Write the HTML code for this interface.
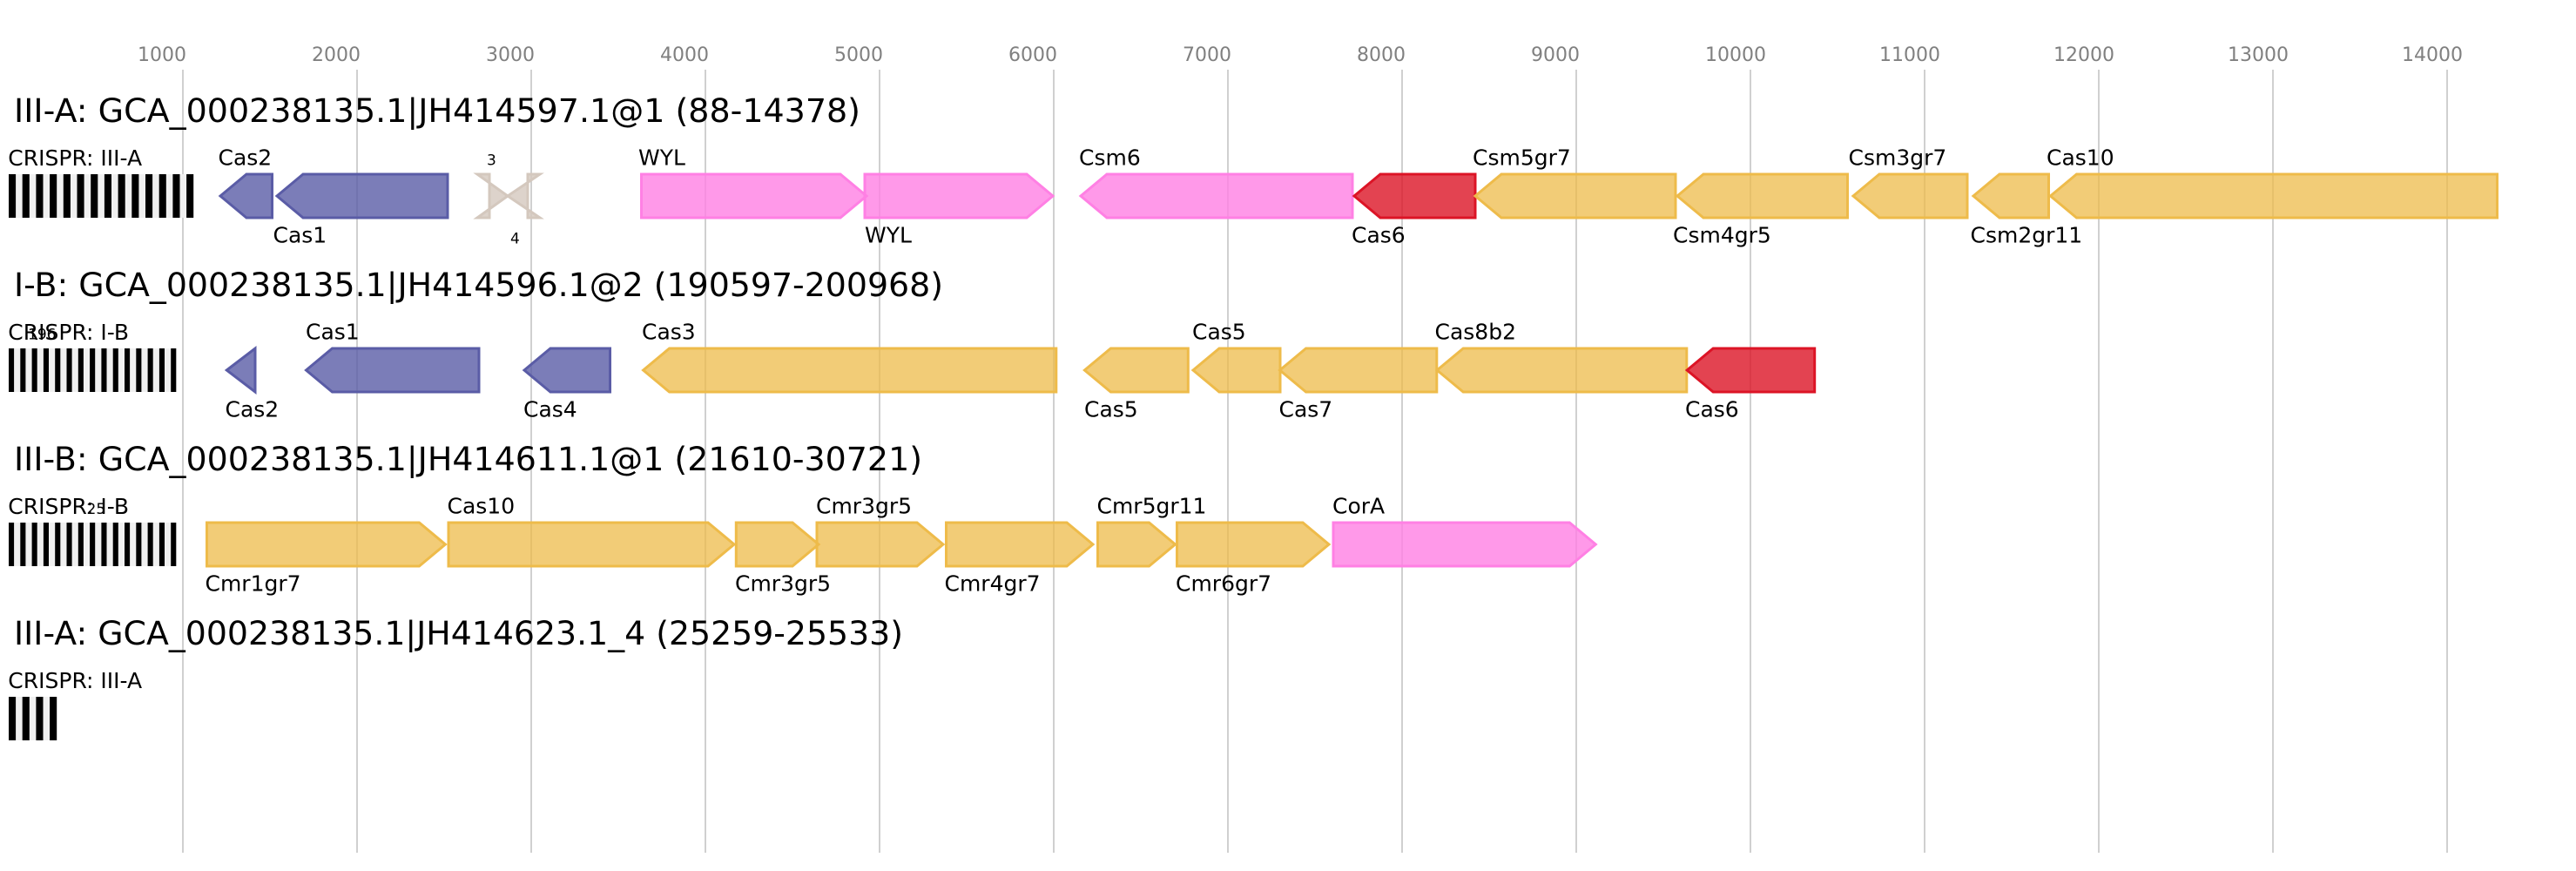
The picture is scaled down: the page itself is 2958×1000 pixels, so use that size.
<!DOCTYPE html>
<html>
<head>
<meta charset="utf-8">
<style>
html,body{margin:0;padding:0;background:#fff;}
svg{display:block;}
text{font-family:"DejaVu Sans","Liberation Sans",sans-serif;}
</style>
</head>
<body>
<svg width="2958" height="1000" viewBox="0 0 2958 1000" xmlns="http://www.w3.org/2000/svg">
<rect x="0" y="0" width="2958" height="1000" fill="#fff"/>

<!-- gridlines -->
<g stroke="#c0c0c0" stroke-width="1.5">
<line x1="210" y1="80" x2="210" y2="979"/>
<line x1="410" y1="80" x2="410" y2="979"/>
<line x1="610" y1="80" x2="610" y2="979"/>
<line x1="810" y1="80" x2="810" y2="979"/>
<line x1="1010" y1="80" x2="1010" y2="979"/>
<line x1="1210" y1="80" x2="1210" y2="979"/>
<line x1="1410" y1="80" x2="1410" y2="979"/>
<line x1="1610" y1="80" x2="1610" y2="979"/>
<line x1="1810" y1="80" x2="1810" y2="979"/>
<line x1="2010" y1="80" x2="2010" y2="979"/>
<line x1="2210" y1="80" x2="2210" y2="979"/>
<line x1="2410" y1="80" x2="2410" y2="979"/>
<line x1="2610" y1="80" x2="2610" y2="979"/>
<line x1="2810" y1="80" x2="2810" y2="979"/>
</g>

<!-- tick labels -->
<g font-size="22" fill="#808080">
<text x="158" y="70">1000</text>
<text x="358" y="70">2000</text>
<text x="558" y="70">3000</text>
<text x="758" y="70">4000</text>
<text x="958" y="70">5000</text>
<text x="1158" y="70">6000</text>
<text x="1358" y="70">7000</text>
<text x="1558" y="70">8000</text>
<text x="1758" y="70">9000</text>
<text x="1958" y="70">10000</text>
<text x="2158" y="70">11000</text>
<text x="2358" y="70">12000</text>
<text x="2558" y="70">13000</text>
<text x="2758" y="70">14000</text>
</g>

<!-- titles -->
<g font-size="37" fill="#000">
<text x="16" y="140" textLength="972" lengthAdjust="spacingAndGlyphs">III-A: GCA_000238135.1|JH414597.1@1 (88-14378)</text>
<text x="16" y="340" textLength="1067" lengthAdjust="spacingAndGlyphs">I-B: GCA_000238135.1|JH414596.1@2 (190597-200968)</text>
<text x="16" y="540" textLength="1043" lengthAdjust="spacingAndGlyphs">III-B: GCA_000238135.1|JH414611.1@1 (21610-30721)</text>
<text x="16" y="740" textLength="1021" lengthAdjust="spacingAndGlyphs">III-A: GCA_000238135.1|JH414623.1_4 (25259-25533)</text>
</g>

<!-- CRISPR arrays -->
<g>
<rect x="10" y="200" width="212.2" height="50" fill="#f0f0f0"/>
<g fill="#000">
<rect x="10" y="200" width="8.1" height="50"/>
<rect x="25.7" y="200" width="8.1" height="50"/>
<rect x="41.4" y="200" width="8.1" height="50"/>
<rect x="57.1" y="200" width="8.1" height="50"/>
<rect x="72.8" y="200" width="8.1" height="50"/>
<rect x="88.5" y="200" width="8.1" height="50"/>
<rect x="104.2" y="200" width="8.1" height="50"/>
<rect x="119.9" y="200" width="8.1" height="50"/>
<rect x="135.6" y="200" width="8.1" height="50"/>
<rect x="151.3" y="200" width="8.1" height="50"/>
<rect x="167" y="200" width="8.1" height="50"/>
<rect x="182.7" y="200" width="8.1" height="50"/>
<rect x="198.4" y="200" width="8.1" height="50"/>
<rect x="214.1" y="200" width="8.1" height="50"/>
</g>

<rect x="10" y="400" width="192.3" height="50" fill="#f0f0f0"/>
<g fill="#000">
<rect x="10" y="400" width="6.1" height="50"/>
<rect x="23.3" y="400" width="6.1" height="50"/>
<rect x="36.6" y="400" width="6.1" height="50"/>
<rect x="49.9" y="400" width="6.1" height="50"/>
<rect x="63.2" y="400" width="6.1" height="50"/>
<rect x="76.5" y="400" width="6.1" height="50"/>
<rect x="89.8" y="400" width="6.1" height="50"/>
<rect x="103.1" y="400" width="6.1" height="50"/>
<rect x="116.4" y="400" width="6.1" height="50"/>
<rect x="129.7" y="400" width="6.1" height="50"/>
<rect x="143" y="400" width="6.1" height="50"/>
<rect x="156.3" y="400" width="6.1" height="50"/>
<rect x="169.6" y="400" width="6.1" height="50"/>
<rect x="182.9" y="400" width="6.1" height="50"/>
<rect x="196.2" y="400" width="6.1" height="50"/>
</g>

<rect x="10" y="600" width="192.3" height="50" fill="#f0f0f0"/>
<g fill="#000">
<rect x="10" y="600" width="6.1" height="50"/>
<rect x="23.3" y="600" width="6.1" height="50"/>
<rect x="36.6" y="600" width="6.1" height="50"/>
<rect x="49.9" y="600" width="6.1" height="50"/>
<rect x="63.2" y="600" width="6.1" height="50"/>
<rect x="76.5" y="600" width="6.1" height="50"/>
<rect x="89.8" y="600" width="6.1" height="50"/>
<rect x="103.1" y="600" width="6.1" height="50"/>
<rect x="116.4" y="600" width="6.1" height="50"/>
<rect x="129.7" y="600" width="6.1" height="50"/>
<rect x="143" y="600" width="6.1" height="50"/>
<rect x="156.3" y="600" width="6.1" height="50"/>
<rect x="169.6" y="600" width="6.1" height="50"/>
<rect x="182.9" y="600" width="6.1" height="50"/>
<rect x="196.2" y="600" width="6.1" height="50"/>
</g>

<rect x="10" y="800" width="55.2" height="50" fill="#f0f0f0"/>
<g fill="#000">
<rect x="10" y="800" width="8.1" height="50"/>
<rect x="25.7" y="800" width="8.1" height="50"/>
<rect x="41.4" y="800" width="8.1" height="50"/>
<rect x="57.1" y="800" width="8.1" height="50"/>
</g>
</g>

<!-- CRISPR labels -->
<g font-size="25" fill="#000">
<text x="9.3" y="190">CRISPR: III-A</text>
<text x="9.3" y="390">CRISPR: I-B</text>
<text x="9.3" y="590">CRISPR: I-B</text>
<text x="9.3" y="790">CRISPR: III-A</text>
</g>
<g font-size="17" fill="#000">
<text x="32" y="389.5">196</text>
<text x="99.5" y="590">25</text>
</g>

<!-- Row 1 genes -->
<g stroke-width="3" stroke-linejoin="miter">
<g fill="#5a5ca6" fill-opacity="0.8" stroke="#5a5ca6">
<polygon points="253,225 283,200 312.5,200 312.5,250 283,250"/>
<polygon points="318,225 348,200 514,200 514,250 348,250"/>
</g>
<g fill="#d4c8be" fill-opacity="0.8" stroke="#d4c8be">
<polygon points="562,200 548,200 583,225 548,250 562,250"/>
<polygon points="583,225 620,200 606,200 606,250 620,250"/>
</g>
<g fill="#ff80e4" fill-opacity="0.8" stroke="#ff80e4">
<polygon points="736.5,200 965,200 995,225 965,250 736.5,250"/>
<polygon points="993,200 1179,200 1209,225 1179,250 993,250"/>
<polygon points="1241,225 1271,200 1553,200 1553,250 1271,250"/>
</g>
<g fill="#dc1426" fill-opacity="0.8" stroke="#dc1426">
<polygon points="1555,225 1585,200 1694,200 1694,250 1585,250"/>
</g>
<g fill="#eebb4a" fill-opacity="0.75" stroke="#eebb4a">
<polygon points="1694,225 1724,200 1924,200 1924,250 1724,250"/>
<polygon points="1926,225 1956,200 2121.5,200 2121.5,250 1956,250"/>
<polygon points="2128,225 2158,200 2259,200 2259,250 2158,250"/>
<polygon points="2266,225 2296,200 2352.5,200 2352.5,250 2296,250"/>
<polygon points="2354.5,225 2384.5,200 2867.5,200 2867.5,250 2384.5,250"/>
</g>
</g>

<!-- Row 2 genes -->
<g stroke-width="3" stroke-linejoin="miter">
<g fill="#5a5ca6" fill-opacity="0.8" stroke="#5a5ca6">
<polygon points="260.3,425 293,400 293,450"/>
<polygon points="351.5,425 381.5,400 550,400 550,450 381.5,450"/>
<polygon points="602,425 632,400 700.5,400 700.5,450 632,450"/>
</g>
<g fill="#eebb4a" fill-opacity="0.75" stroke="#eebb4a">
<polygon points="738.6,425 768.6,400 1212.8,400 1212.8,450 768.6,450"/>
<polygon points="1245.4,425 1275.4,400 1364.3,400 1364.3,450 1275.4,450"/>
<polygon points="1370,425 1400,400 1470,400 1470,450 1400,450"/>
<polygon points="1469.6,425 1499.6,400 1649.8,400 1649.8,450 1499.6,450"/>
<polygon points="1650.2,425 1680.2,400 1936.8,400 1936.8,450 1680.2,450"/>
</g>
<g fill="#dc1426" fill-opacity="0.8" stroke="#dc1426">
<polygon points="1937.2,425 1967.2,400 2083.7,400 2083.7,450 1967.2,450"/>
</g>
</g>

<!-- Row 3 genes -->
<g stroke-width="3" stroke-linejoin="miter">
<g fill="#eebb4a" fill-opacity="0.75" stroke="#eebb4a">
<polygon points="237.5,600 481.4,600 511.4,625 481.4,650 237.5,650"/>
<polygon points="515,600 813,600 843,625 813,650 515,650"/>
<polygon points="845.3,600 910,600 940,625 910,650 845.3,650"/>
<polygon points="938,600 1053,600 1083,625 1053,650 938,650"/>
<polygon points="1086.5,600 1225,600 1255,625 1225,650 1086.5,650"/>
<polygon points="1260.5,600 1319.5,600 1349.5,625 1319.5,650 1260.5,650"/>
<polygon points="1351.5,600 1496,600 1526,625 1496,650 1351.5,650"/>
</g>
<g fill="#ff80e4" fill-opacity="0.8" stroke="#ff80e4">
<polygon points="1531,600 1802.3,600 1832.3,625 1802.3,650 1531,650"/>
</g>
</g>

<!-- Gene labels -->
<g font-size="25" fill="#000">
<text x="250.5" y="189.5">Cas2</text>
<text x="733" y="189.5">WYL</text>
<text x="1239" y="189.5">Csm6</text>
<text x="1691" y="189.5">Csm5gr7</text>
<text x="2122.5" y="189.5">Csm3gr7</text>
<text x="2350" y="189.5">Cas10</text>
<text x="313.5" y="278.5">Cas1</text>
<text x="993" y="278.5">WYL</text>
<text x="1552" y="278.5">Cas6</text>
<text x="1921" y="278.5">Csm4gr5</text>
<text x="2262.5" y="278.5">Csm2gr11</text>
<text x="351" y="389.5">Cas1</text>
<text x="737" y="389.5">Cas3</text>
<text x="1369" y="389.5">Cas5</text>
<text x="1647.5" y="389.5">Cas8b2</text>
<text x="258.5" y="478.5">Cas2</text>
<text x="601" y="478.5">Cas4</text>
<text x="1245" y="478.5">Cas5</text>
<text x="1468.5" y="478.5">Cas7</text>
<text x="1935" y="478.5">Cas6</text>
<text x="513.5" y="589.5">Cas10</text>
<text x="937" y="589.5">Cmr3gr5</text>
<text x="1259.5" y="589.5">Cmr5gr11</text>
<text x="1530" y="589.5">CorA</text>
<text x="235.5" y="678.5">Cmr1gr7</text>
<text x="844" y="678.5">Cmr3gr5</text>
<text x="1084.5" y="678.5">Cmr4gr7</text>
<text x="1350" y="678.5">Cmr6gr7</text>
</g>
<g font-size="17" fill="#000">
<text x="559" y="189.5">3</text>
<text x="586" y="279.5">4</text>
</g>
</svg>
</body>
</html>
